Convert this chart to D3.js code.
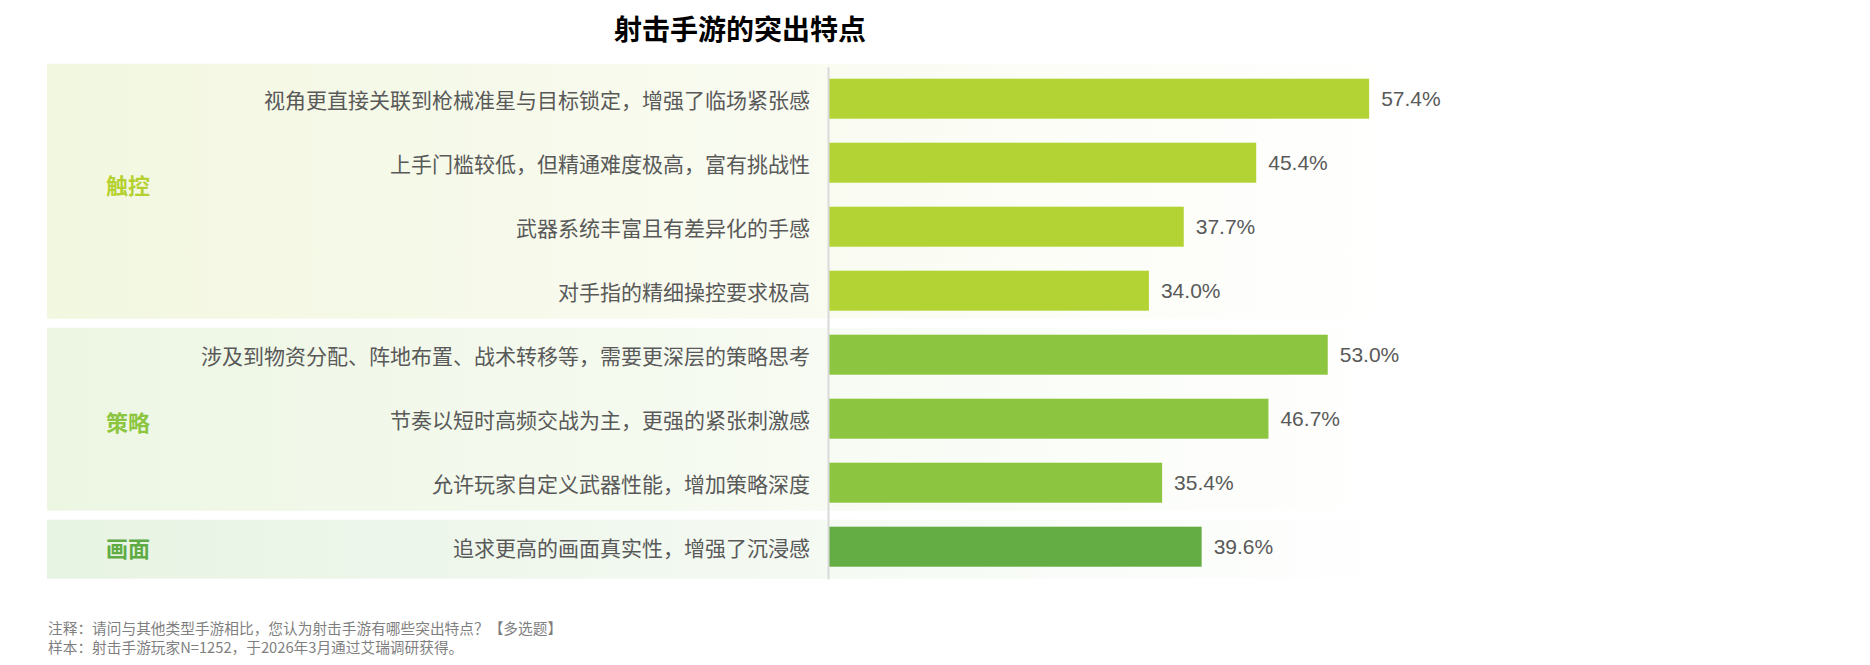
<!DOCTYPE html>
<html>
<head>
<meta charset="utf-8">
<script src="https://cdn.jsdelivr.net/npm/d3@7"></script>
<style>
  body { margin: 0; background: #fff; }
  svg text { font-family: "Noto Sans CJK SC", "Noto Sans", sans-serif; }
</style>
</head>
<body>
<svg id="chart" width="1870" height="665"></svg>
<script>
// ---- data ----
var groups = ["触控", "策略", "画面"];
var items = [
  "视角更直接关联到枪械准星与目标锁定，增强了临场紧张感",
  "上手门槛较低，但精通难度极高，富有挑战性",
  "武器系统丰富且有差异化的手感",
  "对手指的精细操控要求极高",
  "涉及到物资分配、阵地布置、战术转移等，需要更深层的策略思考",
  "节奏以短时高频交战为主，更强的紧张刺激感",
  "允许玩家自定义武器性能，增加策略深度",
  "追求更高的画面真实性，增强了沉浸感"
];
var values = [57.4, 45.4, 37.7, 34.0, 53.0, 46.7, 35.4, 39.6];
var itemGroup = [0, 0, 0, 0, 1, 1, 1, 2];
var notes = [
  "注释：请问与其他类型手游相比，您认为射击手游有哪些突出特点？【多选题】",
  "样本：射击手游玩家N=1252，于2026年3月通过艾瑞调研获得。"
];

// ---- style ----
var barColor = ["#b3d334", "#8cc540", "#63ad44"];
var labelColor = ["#b5d130", "#8cc540", "#5fac45"];
var panelColor = ["#f2f7e0", "#edf6e3", "#e7f3e3"];
var labelShift = [-7, 2, -2]; // group labels sit a little off the panel centre

var svg = d3.select("#chart");
var axisX = 828;

var x = d3.scaleLinear().domain([0, 100]).range([axisX + 1, axisX + 1 + 941]);
var y = d3.scaleBand()
  .domain(d3.range(items.length))
  .range([66.7, 578.7])
  .paddingInner(0.375)
  .paddingOuter(0.1875);

var pad = (y.step() - y.bandwidth()) / 2;

// gradients for the group panels
var defs = svg.append("defs");
groups.forEach(function(g, i) {
  var grad = defs.append("linearGradient")
    .attr("id", "pg" + i)
    .attr("gradientUnits", "userSpaceOnUse")
    .attr("x1", 47).attr("x2", 1415).attr("y1", 0).attr("y2", 0);
  grad.append("stop").attr("offset", 0).attr("stop-color", panelColor[i]);
  grad.append("stop").attr("offset", 1).attr("stop-color", "#ffffff");
});

// group panels
var panels = groups.map(function(g, gi) {
  var idx = d3.range(items.length).filter(function(i) { return itemGroup[i] == gi; });
  var first = idx[0], last = idx[idx.length - 1];
  var top = y(first) - pad + (gi == 0 ? -3 : 5);
  var bottom = y(last) + y.bandwidth() + pad - (gi == groups.length - 1 ? 0 : 4);
  return { name: g, gi: gi, top: top, bottom: bottom };
});

svg.selectAll("rect.panel")
  .data(panels)
  .enter()
  .append("rect")
  .attr("class", "panel")
  .attr("x", 47)
  .attr("width", 1415 - 47)
  .attr("y", function(d) { return d.top; })
  .attr("height", function(d) { return d.bottom - d.top; })
  .style("fill", function(d) { return "url(#pg" + d.gi + ")"; });

svg.selectAll("text.group")
  .data(panels)
  .enter()
  .append("text")
  .attr("class", "group")
  .attr("x", 128)
  .attr("y", function(d) { return (d.top + d.bottom) / 2 + labelShift[d.gi]; })
  .attr("text-anchor", "middle")
  .attr("dominant-baseline", "central")
  .style("font-size", "22px")
  .style("font-weight", "bold")
  .style("fill", function(d) { return labelColor[d.gi]; })
  .text(function(d) { return d.name; });

// bars
svg.selectAll("rect.bar")
  .data(values)
  .enter()
  .append("rect")
  .attr("class", "bar")
  .attr("x", x(0))
  .attr("y", function(d, i) { return y(i); })
  .attr("width", function(d) { return x(d) - x(0); })
  .attr("height", y.bandwidth())
  .style("fill", function(d, i) { return barColor[itemGroup[i]]; });

// value labels
svg.selectAll("text.value")
  .data(values)
  .enter()
  .append("text")
  .attr("class", "value")
  .attr("x", function(d) { return x(d) + 12; })
  .attr("y", function(d, i) { return y(i) + y.bandwidth() / 2; })
  .attr("dy", "0.35em")
  .style("font-family", "'Liberation Sans', Arial, sans-serif")
  .style("font-size", "21px")
  .style("fill", "#595959")
  .text(function(d) { return d.toFixed(1) + "%"; });

// category axis
var axis = svg.append("g")
  .attr("transform", "translate(" + axisX + ",0)")
  .call(d3.axisLeft(y)
    .tickSize(0)
    .tickSizeOuter(0)
    .tickPadding(18)
    .tickFormat(function(i) { return items[i]; }));

axis.select(".domain")
  .attr("stroke", "#d9d9d9")
  .attr("stroke-width", 2);

axis.selectAll(".tick text")
  .attr("dy", null)
  .attr("dominant-baseline", "central")
  .style("font-family", "'Noto Sans CJK SC', sans-serif")
  .style("font-size", "21px")
  .style("fill", "#595959");

// title
svg.append("text")
  .attr("x", 740)
  .attr("y", 28)
  .attr("text-anchor", "middle")
  .attr("dominant-baseline", "central")
  .style("font-size", "28px")
  .style("font-weight", "bold")
  .style("fill", "#000")
  .text("射击手游的突出特点");

// notes
svg.selectAll("text.note")
  .data(notes)
  .enter()
  .append("text")
  .attr("class", "note")
  .attr("x", 48)
  .attr("y", function(d, i) { return 627 + i * 19; })
  .attr("dominant-baseline", "central")
  .style("font-size", "14.7px")
  .style("fill", "#7f7f7f")
  .text(function(d) { return d; });
</script>
</body>
</html>
